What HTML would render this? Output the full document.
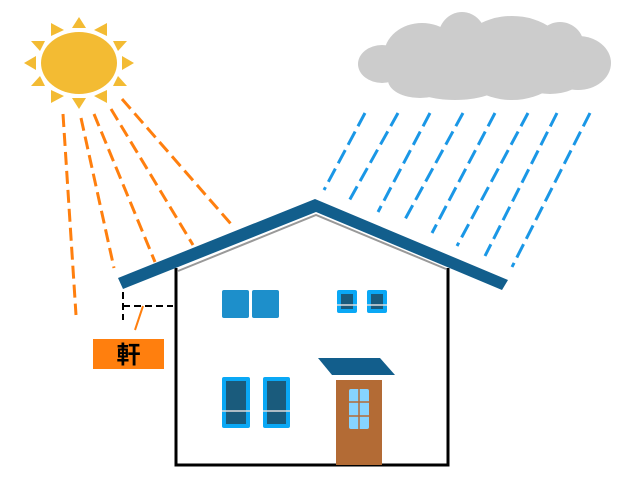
<!DOCTYPE html><html><head><meta charset="utf-8"><style>body{margin:0;background:#fff}svg{display:block}</style></head><body>
<svg width="640" height="480" viewBox="0 0 640 480" xmlns="http://www.w3.org/2000/svg">
<g fill="#cccccc">
<ellipse cx="382" cy="64" rx="24" ry="19"/><ellipse cx="422" cy="55" rx="38" ry="32"/><ellipse cx="462" cy="38" rx="24" ry="26"/>
<ellipse cx="512" cy="58" rx="56" ry="42"/><ellipse cx="560" cy="46" rx="24" ry="24"/><ellipse cx="578" cy="63" rx="33" ry="27"/>
<ellipse cx="455" cy="80" rx="50" ry="20"/><ellipse cx="550" cy="80" rx="30" ry="14"/><ellipse cx="420" cy="80" rx="32" ry="18"/>
</g>
<g stroke="#1a97e6" stroke-width="3" stroke-dasharray="15,6" fill="none">
<line x1="365" y1="113" x2="324" y2="190"/><line x1="398" y1="113" x2="349" y2="201"/>
<line x1="430" y1="113" x2="378" y2="212"/><line x1="463" y1="113" x2="403" y2="223"/>
<line x1="495" y1="113" x2="432" y2="233"/><line x1="528" y1="113" x2="457" y2="246"/>
<line x1="557" y1="113" x2="485" y2="256"/><line x1="590" y1="113" x2="512" y2="267"/>
</g>
<g stroke="#ff7f0e" stroke-width="3" stroke-dasharray="13,6" fill="none">
<line x1="63" y1="114" x2="76" y2="315"/><line x1="81" y1="118" x2="114" y2="268"/>
<line x1="94" y1="114" x2="155" y2="262"/><line x1="111" y1="109" x2="193" y2="245"/>
<line x1="122" y1="99" x2="231" y2="224"/>
</g>
<g fill="#f3bb33">
<ellipse cx="79" cy="63" rx="38" ry="31"/>
<polygon points="79,17 72,28 86,28"/><polygon points="79,109 72,98 86,98"/>
<polygon points="24,63 36,56 36,70"/><polygon points="134,63 122,56 122,70"/>
<polygon points="51,23 51,36 64,30"/><polygon points="107,23 107,36 94,30"/>
<polygon points="51,103 51,90 64,96"/><polygon points="107,103 107,90 94,96"/>
<polygon points="31,41 45,41 40,51"/><polygon points="127,41 113,41 118,51"/>
<polygon points="31,86 45,86 40,76"/><polygon points="127,86 113,86 118,76"/>
</g>
<polygon points="176,270 316,214 448,268 448,465 176,465" fill="#fff"/>
<polyline points="178,271 316,215 446,269" fill="none" stroke="#999" stroke-width="2"/>
<polyline points="176,268 176,465 448,465 448,268" fill="none" stroke="#000" stroke-width="3"/>
<polygon points="118,278 315,199 508,280 502,290 316,212 123,289" fill="#125e8c"/>
<path d="M123,292 V320 M123,306 H173" stroke="#000" stroke-width="2" stroke-dasharray="7,4" fill="none"/>
<line x1="143" y1="306" x2="135" y2="330" stroke="#ff7f0e" stroke-width="2"/>
<rect x="93" y="339" width="71" height="30" fill="#ff7f0e"/>
<text x="128.5" y="363" font-family="Liberation Sans, Noto Sans CJK JP, sans-serif" font-size="24" font-weight="bold" text-anchor="middle" fill="#000">軒</text>
<rect x="222" y="290" width="27" height="28" rx="2" fill="#1d8fcb"/><rect x="252" y="290" width="27" height="28" rx="2" fill="#1d8fcb"/>
<g fill="#0aa8f5"><rect x="337" y="290" width="20" height="23" rx="2"/><rect x="367" y="290" width="20" height="23" rx="2"/>
<rect x="222" y="377" width="28" height="51" rx="2"/><rect x="263" y="377" width="27" height="51" rx="2"/></g>
<g fill="#1a5b7c"><rect x="341" y="294" width="12" height="15"/><rect x="371" y="294" width="12" height="15"/>
<rect x="226" y="381" width="20" height="43"/><rect x="267" y="381" width="19" height="43"/></g>
<g stroke="#ddd" stroke-width="1.5"><line x1="337" y1="305" x2="357" y2="305"/><line x1="367" y1="305" x2="387" y2="305"/>
<line x1="222" y1="411" x2="250" y2="411"/><line x1="263" y1="411" x2="290" y2="411"/></g>
<polygon points="318,358 380,358 395,375 332,375" fill="#125e8c"/>
<rect x="336" y="380" width="46" height="85" fill="#b36b35"/>
<rect x="349" y="389" width="20" height="40" rx="2" fill="#86d4ff"/>
<g stroke="#b36b35" stroke-width="1.5"><line x1="359" y1="389" x2="359" y2="429"/><line x1="349" y1="402" x2="369" y2="402"/><line x1="349" y1="416" x2="369" y2="416"/></g>
</svg></body></html>
